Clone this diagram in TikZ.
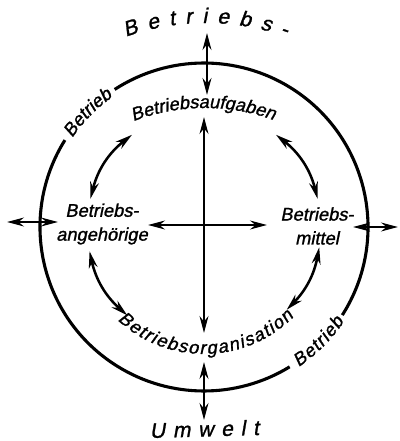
\documentclass[tikz,border=0pt]{standalone}
\usepackage{fontspec}
\setmainfont{Liberation Sans}
\newfontfamily\letterfont[FakeBold=1.2,FakeSlant=0.2]{Liberation Sans}
\usetikzlibrary{arrows.meta,decorations.text}

\newcommand{\lblfont}{\fontsize{13}{17}\selectfont\letterfont}
\newcommand{\bigfont}{\fontsize{15}{18}\selectfont\letterfont}

\begin{document}
\begin{tikzpicture}[
    ring/.style={line width=2.2pt},
    dbl/.style={{Stealth[length=0.42cm,width=0.22cm]}-{Stealth[length=0.42cm,width=0.22cm]}, line width=1.8pt},
    lbl/.style={font=\lblfont, align=center, inner sep=0pt}
]
    \useasboundingbox (-5.1,-5.35) rectangle (4.9,5.675);

    % Centre of the ring
    \coordinate (c) at (0,0);

    % Ring "Betrieb", broken where its name is written
    \draw[ring] (148:4.1) arc[start angle=148, end angle=301.5, radius=4.1];
    \draw[ring] (327.5:4.1) arc[start angle=327.5, end angle=483, radius=4.1];
    \path[decorate, decoration={text along path, text={|\lblfont|Betrieb}, text align={fit to path}}]
        (146:3.975) arc[start angle=146, end angle=125, radius=3.975];
    \path[decorate, decoration={text along path, text={|\lblfont|Betrieb}, text align={fit to path}}]
        (-56:4.225) arc[start angle=-56, end angle=-34, radius=4.225];

    % Outer words "Betriebs- Umwelt"
    \path[shift={(0.05,-0.9)}, decorate, decoration={text along path, text={|\bigfont|Betriebs-}, text align={fit to path}}]
        (109.5:6) arc[start angle=109.5, end angle=70.5, radius=6];
    \path[decorate, decoration={text along path, text={|\bigfont|Umwelt}, text align={fit to path}}]
        (-1.35,-5.275) -- (1.375,-5.2);

    % Four inner labels
    \path[shift={(0.025,-2.025)}, decorate, decoration={text along path, text={|\lblfont|Betriebsaufgaben}, text align={fit to path}}]
        (111:5) arc[start angle=111, end angle=70, radius=5];
    \path[decorate, decoration={text along path, text={|\lblfont|Betriebsorganisation}, text align={fit to path}}]
        (-133:3.175) arc[start angle=-133, end angle=-45, radius=3.175];
    \node[lbl] (angeh) at (-2.55,0.075) {Betriebs-\\angehörige};
    \node[lbl] (mittel) at (2.825,0.025) {Betriebs-\\mittel};

    % Arrow ends
    \coordinate (vtop) at (0,2.75);
    \coordinate (vbot) at (0,-2.65);
    \coordinate (hl) at (-1.4,0.05);
    \coordinate (hr) at (1.575,0.05);
    \coordinate (nout) at (0.075,4.85);
    \coordinate (nin) at (0.075,3.3);
    \coordinate (sin) at (0,-3.375);
    \coordinate (sout) at (0,-4.825);
    \coordinate (wout) at (-4.925,0.125);
    \coordinate (win) at (-3.65,0.125);
    \coordinate (ein) at (3.725,0);
    \coordinate (eout) at (4.85,0);
    \coordinate (tl1) at (128:2.925);
    \coordinate (tl2) at (166:2.925);
    \coordinate (tr1) at (52:2.925);
    \coordinate (tr2) at (14:2.925);
    \coordinate (bl1) at (192:2.925);
    \coordinate (bl2) at (229:2.925);
    \coordinate (br1) at (-10:2.925);
    \coordinate (br2) at (-45:2.925);

    % Cross in the middle
    \draw[dbl] (vtop) -- (vbot);
    \draw[dbl] (hl) -- (hr);

    % Arrows through the ring
    \draw[dbl] (nout) -- (nin);
    \draw[dbl] (sin) -- (sout);
    \draw[dbl] (wout) -- (win);
    \draw[dbl] (ein) -- (eout);

    % Curved arrows between neighbouring labels
    \draw[dbl] (tl1) to[bend right=19] (tl2);
    \draw[dbl] (tr1) to[bend left=19] (tr2);
    \draw[dbl] (bl1) to[bend right=18] (bl2);
    \draw[dbl] (br1) to[bend left=17] (br2);

\end{tikzpicture}
\end{document}
